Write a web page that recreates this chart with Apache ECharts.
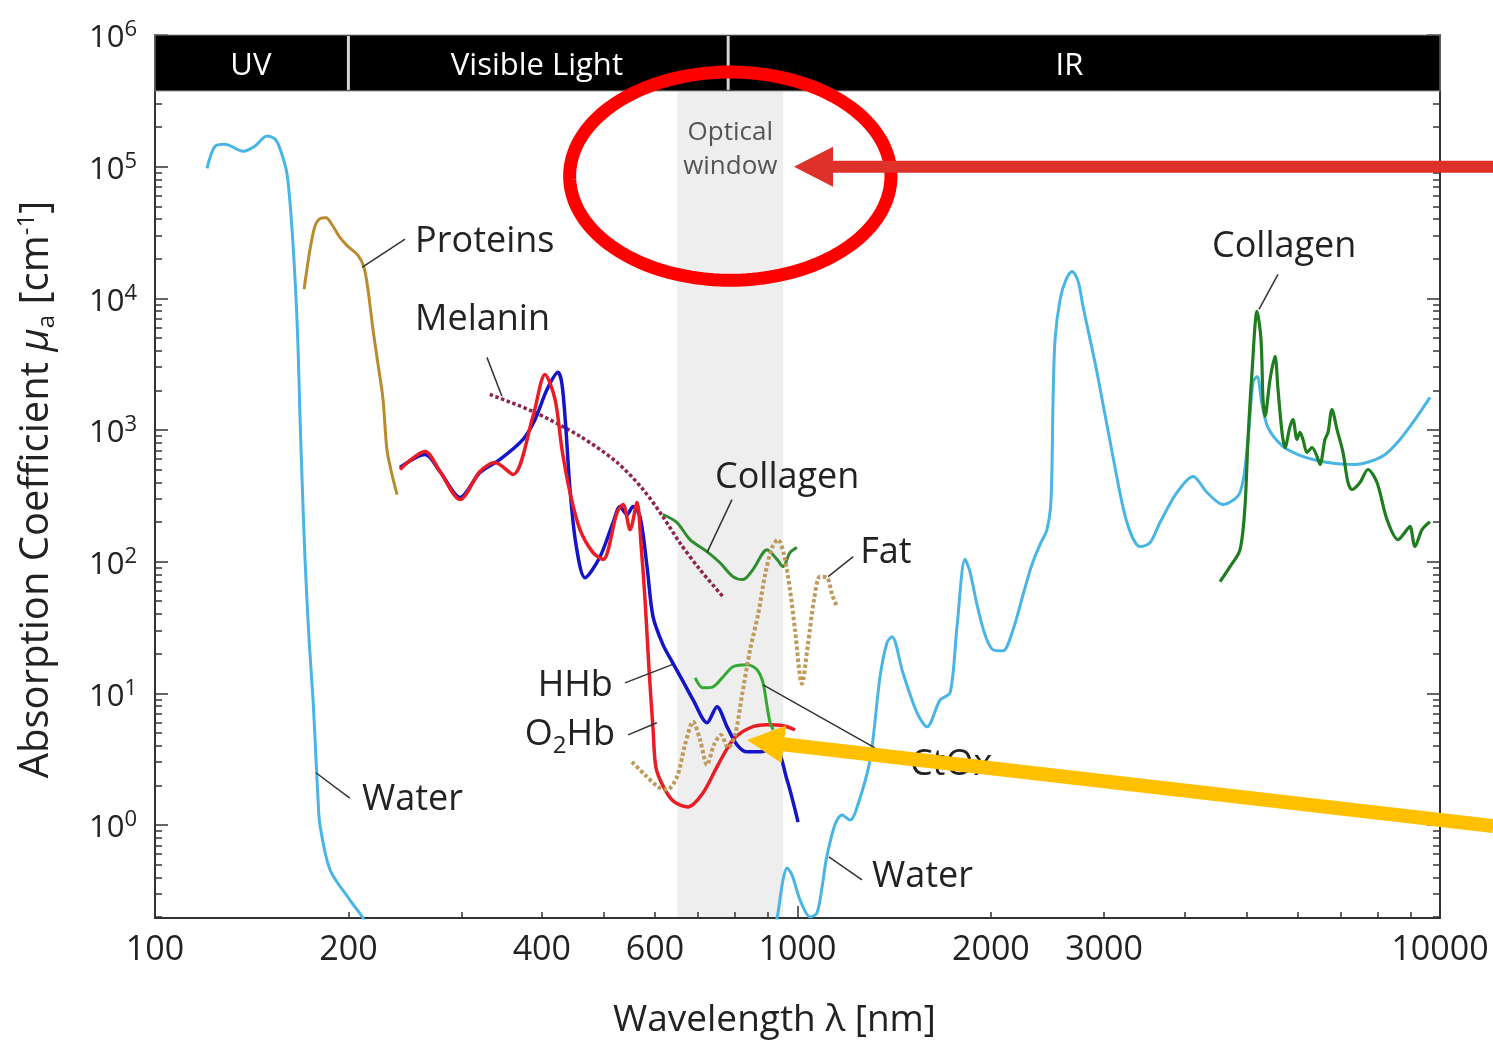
<!DOCTYPE html>
<html>
<head>
<meta charset="utf-8">
<script src="https://cdn.jsdelivr.net/npm/echarts@6/dist/echarts.min.js"></script>
<style>
html, body { margin: 0; padding: 0; background: #fff; }
#chart { width: 1493px; height: 1041px; }
</style>
</head>
<body>
<div id="chart"></div>
<script>
// Absorption spectra of tissue constituents: [wavelength nm, absorption coefficient cm^-1]
const waterUV = [[120.5,9.7e4],[124,1.43e5],[128.5,1.48e5],[137.1,1.31e5],[143,1.43e5],[149.4,1.71e5],[153.8,1.62e5],[156.6,1.36e5],[160.5,8.8e4],[163.4,3.35e4],[165.8,9.8e3],[167,4.1e3],[168.2,1.2e3],[169.4,421],[171.2,104],[173.7,25.5],[176.2,8.9],[178.1,3.1],[179.4,1.55],[180.6,1.0],[187.3,0.455],[201,0.27],[210.8,0.196],[214,0.17]];
const waterIR = [[926,0.18],[932.4,0.214],[949.4,0.382],[963.1,0.471],[980.4,0.417],[1009,0.27],[1046,0.2],[1072,0.214],[1092,0.338],[1108,0.542],[1128,0.796],[1148,1.05],[1173,1.19],[1207,1.09],[1234,1.3],[1297,3.12],[1344,13.3],[1378,24.2],[1403,26.9],[1459,14.3],[1535,7.1],[1591,5.56],[1667,8.9],[1728,10.1],[1771,32],[1823,104],[1855,84],[1903,47],[1958,27.9],[2015,21.4],[2088,21],[2165,30.4],[2244,56],[2317,95],[2385,135],[2445,175],[2481,296],[2499,1710],[2517,4880],[2563,9800],[2618,13900],[2675,16000],[2733,13500],[2782,8700],[2925,2740],[3097,628],[3257,198],[3413,130],[3537,139],[3666,198],[3896,335],[4127,443],[4339,335],[4596,271],[4883,335],[5025,847],[5117,2300],[5191,2550],[5285,1560],[5400,1040],[5696,750],[6055,640],[6437,586],[6864,556],[7374,547],[7782,576],[8212,651],[8665,847],[9143,1200],[9647,1770]];
const proteins = [[170.6,1.17e4],[174.3,2.36e4],[177.4,3.53e4],[180.6,4.03e4],[184.6,4.1e4],[188.6,3.62e4],[194.1,2.89e4],[199.7,2.48e4],[207,2.12e4],[211.5,1.72e4],[214.5,1.17e4],[218.4,5.8e3],[222.4,3.15e3],[226.4,1.71e3],[229.6,711],[233.8,459],[238.1,323]];
const melanin = [[332,1860],[387.6,1380],[459,893],[524,566],[575,353],[617,220],[656,139],[705,87],[766,54]];
const hhb = [[240.6,519],[263.2,651],[277.7,483],[298.4,307],[320.4,475],[344.4,597],[374,847],[390.4,1200],[407.5,2030],[423.9,2740],[430,2220],[436.1,1010],[442.5,353],[452.1,135],[467,75.5],[492.8,109],[516.3,198],[529.4,262],[542.9,228],[554.6,262],[568.7,220],[583.2,91.6],[595.8,38.2],[617.4,23.4],[637.9,17.4],[661.2,12.7],[687.9,8.9],[723.1,5.97],[749.4,7.9],[776.8,5.56],[805.2,4.06],[834.6,3.59],[874.3,3.59],[922.6,3.85],[963.1,2.2],[1002,1.05]];
const o2hb = [[240.6,501],[263.2,687],[277.7,483],[298.4,296],[320.4,483],[338.2,566],[360.8,459],[387.6,1270],[404.6,2640],[419.4,1710],[430,711],[442.5,335],[458.6,175],[480.6,117],[498.1,104],[523.8,236],[535.2,271],[548.8,175],[562.7,281],[570.8,135],[579,51.4],[587.4,15.1],[596,5.28],[602.3,2.71],[619.8,1.91],[642.3,1.5],[675.3,1.37],[712.6,1.75],[749.4,2.76],[793.6,4.43],[843.7,5.47],[896.8,5.76],[949.4,5.66],[991,5.28]];
const collagenVis = [[617.4,228],[649.4,198],[680.3,147],[723.1,119],[757.5,98],[793.6,76.9],[822.6,73],[852.5,87],[896.8,123],[929.2,104],[949.4,91.6],[973.4,117],[998,128]];
const collagenIR = [[4546,70.4],[4712,91.6],[4883,123],[4971,262],[5025,847],[5098,2740],[5191,7960],[5265,4880],[5303,1710],[5341,1270],[5438,2420],[5536,3620],[5596,2030],[5677,957],[5738,736],[5841,1060],[5904,1200],[5990,847],[6055,957],[6120,847],[6209,675],[6321,736],[6437,628],[6505,547],[6622,847],[6694,957],[6790,1430],[6913,1010],[7063,675],[7191,399],[7295,353],[7507,399],[7725,501],[7979,399],[8270,209],[8602,147],[8883,175],[8979,185],[9143,130],[9376,175],[9647,201]];
const ctox = [[692.8,13.1],[712.6,11.0],[738.6,11.2],[765.6,13.3],[793.6,15.9],[834.6,16.5],[865,15.1],[883.8,12.0],[896.8,7.9],[906.5,5.97],[916.4,5.28]];
const fat = [[552.6,3.01],[579,2.4],[606.6,1.95],[626.4,1.85],[649.4,2.32],[668.2,4.06],[687.9,6.07],[705.3,4.43],[723.1,2.86],[741.3,4.06],[760.2,4.83],[779.6,3.85],[799.5,4.83],[819.9,9.74],[843.7,21.4],[868.2,39.5],[890.4,79.7],[913,128],[932.4,147],[952.8,113],[973.4,61.2],[991,30.4],[1016,11.8],[1038,23.4],[1061,51.4],[1084,76.9],[1112,75.5],[1132,56.1],[1152,45.5]];

// Axis ticks and labels
const xLabelValues = [100, 200, 400, 600, 1000, 2000, 3000, 10000];
const xMajorTicks = [100, 1000, 10000];
const xMinorTicks = [200,300,400,500,600,700,800,900,2000,3000,4000,5000,6000,7000,8000,9000];
const yDecades = [0, 1, 2, 3, 4, 5, 6];

// Spectral regions across the top and the optical window
const spectralBands = [
  { name: 'UV', from: 100, to: 200, labelAt: 141 },
  { name: 'Visible Light', from: 200, to: 780, labelAt: 393 },
  { name: 'IR', from: 780, to: 10000, labelAt: 2650 }
];
const bandFloor = 3.76e5;
const opticalWindow = { from: 650, to: 950, labelAt: [786, 1.34e5] };

// Curve labels with leader lines, in data units
const notes = [
  { text: 'Proteins', at: [254, 2.71e4], align: 'left', line: [[245, 2.81e4], [210, 1.72e4]] },
  { text: 'Melanin', at: [254, 6.9e3], align: 'left', line: [[328.6, 3.56e3], [346.7, 1.8e3]] },
  { text: 'Collagen', at: [744, 435], align: 'left', line: [[790.7, 296], [723, 117]] },
  { text: 'Fat', at: [1252, 117], align: 'left', line: [[1221, 109], [1116, 76.9]] },
  { text: 'HHb', at: [516, 11.4], align: 'right', line: [[539, 12.0], [638, 16.5]] },
  { text: '{t|O}{s|2}{t|Hb}', at: [520, 4.67], align: 'right', line: [[545, 4.83], [604, 5.97]] },
  { text: 'CtOx', at: [1496, 2.86], align: 'left', line: [[884, 11.6], [1320, 3.85]] },
  { text: 'Water', at: [210, 1.55], align: 'left', line: [[178, 2.49], [201, 1.6]] },
  { text: 'Water', at: [1306, 0.402], align: 'left', line: [[1119, 0.571], [1260, 0.382]] },
  { text: 'Collagen', at: [4417, 2.48e4], align: 'left', line: [[5596, 1.52e4], [5227, 8.25e3]] }
];

// Highlight marks drawn over the chart
const highlightRing = { center: [786, 8.47e4], edgeX: 1398, edgeY: 5.23e5 };
const pointerRed = { tip: [987.5, 1e5], tail: [12100, 1e5] };
const pointerYellow = { tip: [834.6, 4.41], tail: [12100, 0.981] };

const L = Math.log10;
const X_MIN = 2, X_MAX = 4, Y_MIN = -0.707, Y_MAX = 6;
const FONT = '"Open Sans", "Noto Sans", "DejaVu Sans", sans-serif';
const INK = '#222';
const toLog = arr => arr.map(p => [L(p[0]), L(p[1])]);

function yMinorValues() {
  const out = [];
  for (let n = -1; n <= 5; n++) {
    for (let k = 2; k <= 9; k++) {
      const v = L(k * Math.pow(10, n));
      if (v >= Y_MIN && v <= Y_MAX) out.push(v);
    }
  }
  return out;
}

function curve(name, data, color, width, z, dash) {
  return {
    name, type: 'line', data: toLog(data), showSymbol: false, symbol: 'none',
    smooth: 0.3, z, silent: true, animation: false,
    lineStyle: { color, width, type: dash || 'solid', cap: 'butt', join: 'round' }
  };
}

function pt(api, p) { return api.coord([L(p[0]), L(p[1])]); }

function arrowShapes(api, spec, style) {
  const tip = pt(api, spec.tip), tail = pt(api, spec.tail);
  const dx = tail[0] - tip[0], dy = tail[1] - tip[1];
  const len = Math.hypot(dx, dy);
  const ux = dx / len, uy = dy / len, nx = -uy, ny = ux;
  const bx = tip[0] + ux * style.head, by = tip[1] + uy * style.head;
  return [
    { type: 'line', shape: { x1: tail[0], y1: tail[1], x2: bx - ux * 3, y2: by - uy * 3 },
      style: { stroke: style.color, lineWidth: style.width } },
    { type: 'polygon', shape: { points: [tip, [bx + nx * style.half, by + ny * style.half], [bx - nx * style.half, by - ny * style.half]] },
      style: { fill: style.color } }
  ];
}

const axisInk = { color: '#333', width: 2 };
const tickInk = { color: '#333', width: 1.5 };

const option = {
  animation: false,
  backgroundColor: '#fff',
  grid: { left: 155, right: 53, top: 35, bottom: 123, containLabel: false, outerBoundsMode: 'none' },
  xAxis: [
    {
      type: 'value', min: X_MIN, max: X_MAX, position: 'bottom', z: 2,
      axisLine: { show: true, onZero: false, lineStyle: axisInk },
      axisTick: { show: true, inside: true, length: 12, lineStyle: tickInk, customValues: xMajorTicks.map(L) },
      axisLabel: {
        customValues: xLabelValues.map(L), margin: 15,
        formatter: v => String(Math.round(Math.pow(10, v))),
        fontSize: 34, color: INK, fontFamily: FONT
      },
      splitLine: { show: false },
      name: 'Wavelength λ [nm]', nameLocation: 'middle', nameGap: 84, nameMoveOverlap: false,
      nameTextStyle: { fontSize: 37, color: INK, fontFamily: FONT, padding: [0, 46, 0, 0] }
    },
    {
      type: 'value', min: X_MIN, max: X_MAX, position: 'bottom', z: 2,
      axisLine: { show: false, onZero: false },
      axisTick: { show: true, inside: true, length: 6, lineStyle: tickInk, customValues: xMinorTicks.map(L) },
      axisLabel: { show: false }, splitLine: { show: false }
    }
  ],
  yAxis: [
    {
      type: 'value', min: Y_MIN, max: Y_MAX, position: 'left', z: 2,
      axisLine: { show: true, onZero: false, lineStyle: axisInk },
      axisTick: { show: true, inside: true, length: 13, lineStyle: tickInk, customValues: yDecades },
      axisLabel: {
        customValues: yDecades, margin: 18,
        formatter: v => '{b|10}{s|' + Math.round(v) + '}',
        rich: {
          b: { fontSize: 31, lineHeight: 32, padding: [7, 0, 0, 0], color: INK, fontFamily: FONT },
          s: { fontSize: 22, lineHeight: 22, verticalAlign: 'top', color: INK, fontFamily: FONT }
        }
      },
      splitLine: { show: false },
      name: '{t|Absorption Coefficient }{mu|μ}{sub|a}{t| [cm}{sup|-1}{t|]}',
      nameLocation: 'middle', nameGap: 96, nameRotate: 90, nameMoveOverlap: false,
      nameTextStyle: {
        fontSize: 40, color: INK, fontFamily: FONT, padding: [0, 26, 0, 0],
        rich: {
          t: { fontSize: 40, lineHeight: 44, padding: [6, 0, 6, 0], color: INK, fontFamily: FONT },
          mu: { fontSize: 40, lineHeight: 44, padding: [6, 0, 6, 0], fontStyle: 'italic', color: INK, fontFamily: FONT },
          sub: { fontSize: 24, lineHeight: 24, verticalAlign: 'bottom', color: INK, fontFamily: FONT },
          sup: { fontSize: 24, lineHeight: 24, verticalAlign: 'top', color: INK, fontFamily: FONT }
        }
      }
    },
    {
      type: 'value', min: Y_MIN, max: Y_MAX, position: 'left', z: 2,
      axisLine: { show: false, onZero: false },
      axisTick: { show: true, inside: true, length: 7, lineStyle: tickInk, customValues: yMinorValues() },
      axisLabel: { show: false }, splitLine: { show: false }
    },
    {
      type: 'value', min: Y_MIN, max: Y_MAX, position: 'right', z: 2,
      axisLine: { show: true, onZero: false, lineStyle: axisInk },
      axisTick: { show: true, inside: true, length: 13, lineStyle: tickInk, customValues: yDecades },
      axisLabel: { show: false }, splitLine: { show: false }
    },
    {
      type: 'value', min: Y_MIN, max: Y_MAX, position: 'right', z: 2,
      axisLine: { show: false, onZero: false },
      axisTick: { show: true, inside: true, length: 7, lineStyle: tickInk, customValues: yMinorValues() },
      axisLabel: { show: false }, splitLine: { show: false }
    }
  ],
  series: [
    // optical window
    {
      type: 'custom', z: 1, silent: true, data: [[X_MIN, Y_MIN]],
      renderItem: (params, api) => {
        const a = api.coord([L(opticalWindow.from), L(bandFloor)]);
        const b = api.coord([L(opticalWindow.to), Y_MIN]);
        const c = pt(api, opticalWindow.labelAt);
        return { type: 'group', children: [
          { type: 'rect', shape: { x: a[0], y: a[1], width: b[0] - a[0], height: b[1] - a[1] }, style: { fill: '#eeeeee' } },
          { type: 'text', x: c[0], y: c[1], style: { text: 'Optical\nwindow', fill: '#555', fontSize: 26, lineHeight: 34, fontFamily: FONT, align: 'center', verticalAlign: 'middle' } }
        ] };
      }
    },
    curve('Water', waterUV, '#48b5e5', 3, 3),
    curve('Water IR', waterIR, '#48b5e5', 3, 3),
    curve('Proteins', proteins, '#b98b2c', 3, 3),
    curve('Melanin', melanin, '#8c2450', 3.5, 4, [3.5, 2.5]),
    curve('HHb', hhb, '#1414c8', 3.5, 4),
    curve('O2Hb', o2hb, '#ea1c24', 3.5, 5),
    curve('Collagen', collagenVis, '#2f8c2f', 3, 5),
    curve('Collagen IR', collagenIR, '#1f7d1f', 3.2, 5),
    curve('CtOx', ctox, '#33a833', 3, 5),
    curve('Fat', fat, '#c09a5b', 4, 6, [3.5, 2.5]),
    // curve labels
    {
      type: 'custom', z: 7, silent: true, data: notes.map(() => [X_MIN, Y_MIN]),
      renderItem: (params, api) => {
        const n = notes[params.dataIndex];
        const p = pt(api, n.at), a = pt(api, n.line[0]), b = pt(api, n.line[1]);
        return { type: 'group', children: [
          { type: 'line', shape: { x1: a[0], y1: a[1], x2: b[0], y2: b[1] }, style: { stroke: '#333', lineWidth: 1.5 } },
          { type: 'text', x: p[0], y: p[1], style: {
            text: n.text, fill: INK, fontSize: 36, fontFamily: FONT, align: n.align, verticalAlign: 'middle',
            rich: {
              t: { fontSize: 36, lineHeight: 42, padding: [0, 0, 4, 0], fill: INK, fontFamily: FONT },
              s: { fontSize: 24, lineHeight: 24, verticalAlign: 'bottom', fill: INK, fontFamily: FONT }
            }
          } }
        ] };
      }
    },
    // spectral regions
    {
      type: 'custom', z: 8, silent: true, data: [[X_MIN, Y_MAX]],
      renderItem: (params, api) => {
        const top = api.coord([X_MIN, Y_MAX])[1];
        const bottom = api.coord([X_MIN, L(bandFloor)])[1];
        const children = [];
        const left = api.coord([X_MIN, Y_MAX])[0], right = api.coord([X_MAX, Y_MAX])[0];
        children.push({ type: 'rect', shape: { x: left, y: top, width: right - left, height: bottom - top }, style: { fill: '#000', stroke: '#8a8a8a', lineWidth: 1 } });
        spectralBands.forEach((b, i) => {
          if (i > 0) {
            const x = api.coord([L(b.from), Y_MAX])[0];
            children.push({ type: 'line', shape: { x1: x, y1: top + 1, x2: x, y2: bottom - 1 }, style: { stroke: '#d4d4d4', lineWidth: 3 } });
          }
          const cx = api.coord([L(b.labelAt), Y_MAX])[0];
          children.push({ type: 'text', x: cx, y: (top + bottom) / 2 + 3, style: { text: b.name, fill: '#fff', fontSize: 31, fontFamily: FONT, align: 'center', verticalAlign: 'middle' } });
        });
        return { type: 'group', children };
      }
    },
    // highlight ring and pointers
    {
      type: 'custom', z: 10, silent: true, clip: false, data: [[X_MIN, Y_MAX]],
      renderItem: (params, api) => {
        const c = pt(api, highlightRing.center);
        const rx = api.coord([L(highlightRing.edgeX), L(highlightRing.center[1])])[0] - c[0];
        const ry = c[1] - api.coord([L(highlightRing.center[0]), L(highlightRing.edgeY)])[1];
        const ring = [];
        for (let i = 0; i < 180; i++) {
          const t = i / 180 * Math.PI * 2;
          ring.push([c[0] + rx * Math.cos(t), c[1] + ry * Math.sin(t)]);
        }
        return { type: 'group', children: [
          { type: 'polygon', shape: { points: ring }, style: { fill: 'none', stroke: '#ff0000', lineWidth: 13 } },
          ...arrowShapes(api, pointerRed, { color: '#de3129', width: 12, head: 39, half: 20 }),
          ...arrowShapes(api, pointerYellow, { color: '#ffc000', width: 14, head: 37, half: 19 })
        ] };
      }
    }
  ]
};

const chart = echarts.init(document.getElementById('chart'), null, { renderer: 'canvas' });
chart.setOption(option);
</script>
</body>
</html>
